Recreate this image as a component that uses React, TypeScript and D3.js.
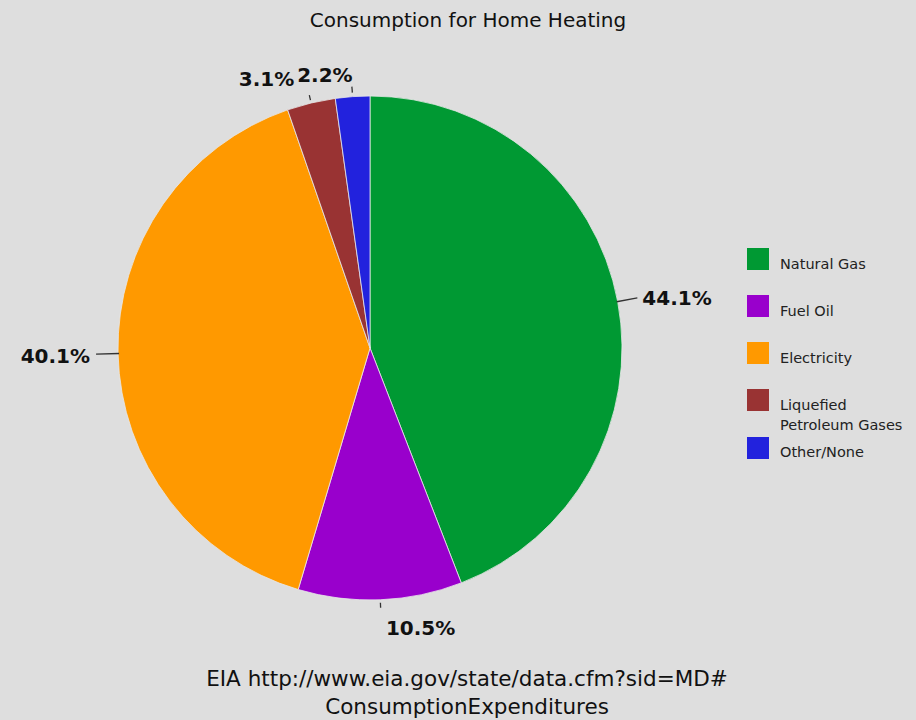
import React from "react";
import * as d3 from "d3";

const categories = ["Natural Gas", "Fuel Oil", "Electricity", "Liquefied Petroleum Gases", "Other/None"];
const legendLines = [["Natural Gas"], ["Fuel Oil"], ["Electricity"], ["Liquefied", "Petroleum Gases"], ["Other/None"]];
const values = [44.1, 10.5, 40.1, 3.1, 2.2];
const colors = ["#009933", "#9900cc", "#ff9900", "#993333", "#2222dd"];
const title = "Consumption for Home Heating";
const footer = ["EIA http://www.eia.gov/state/data.cfm?sid=MD#", "ConsumptionExpenditures"];

// label layout: leader radii (offset beyond pie radius) and text offsets from leader end
const labelLayout = [
  { r1: -1, r2: 20, dx: 5, dy: 7, anchor: "start" },
  { r1: 3, r2: 8, dx: 40, dy: 27, anchor: "middle" },
  { r1: -1, r2: 22, dx: -6, dy: 9, anchor: "end" },
  { r1: 3, r2: 8, dx: -15, dy: -9, anchor: "end" },
  { r1: 4, r2: 10, dx: -27, dy: -5, anchor: "middle" },
];

const W = 916, H = 720;
const cx = 370, cy = 348, R = 252;
const font = "'Comic Sans MS', 'DejaVu Sans', sans-serif";

export default function App() {
  const pie = d3.pie<number>().sort(null).value((d) => d);
  const arcs = pie(values);
  const arc = d3.arc<d3.PieArcDatum<number>>().innerRadius(0).outerRadius(R);
  const pt = (a: number, r: number) => [Math.sin(a) * r, -Math.cos(a) * r];
  const legendY = [248, 295, 342, 389, 437];

  return (
    <svg width={W} height={H} style={{ position: "absolute", left: 0, top: 0, background: "#dedede" }}>
      <rect width={W} height={H} fill="#dedede" />
      <text x={468} y={27} textAnchor="middle" fontFamily={font} fontSize={20} fill="#111">{title}</text>
      <g transform={`translate(${cx},${cy})`}>
        {arcs.map((a, i) => (
          <path key={i} d={arc(a) || ""} fill={colors[i]} stroke="#e8e8e8" strokeWidth={0.8} />
        ))}
        {arcs.map((a, i) => {
          const m = (a.startAngle + a.endAngle) / 2;
          const L = labelLayout[i];
          const [x1, y1] = pt(m, R + L.r1);
          const [x2, y2] = pt(m, R + L.r2);
          return (
            <g key={"l" + i}>
              <line x1={x1} y1={y1} x2={x2} y2={y2} stroke="#333" strokeWidth={1.3} />
              <text x={x2 + L.dx} y={y2 + L.dy} textAnchor={L.anchor as any} fontFamily={font}
                fontWeight="bold" fontSize={20} fill="#111">{values[i].toFixed(1)}%</text>
            </g>
          );
        })}
      </g>
      {categories.map((c, i) => (
        <g key={c}>
          <rect x={747} y={legendY[i]} width={22} height={22} fill={colors[i]} />
          {legendLines[i].map((t, j) => (
            <text key={j} x={780} y={legendY[i] + 21 + j * 20 - (i === 4 ? 1 : 0)} fontFamily={font} fontSize={14.5} fill="#222">{t}</text>
          ))}
        </g>
      ))}
      {footer.map((t, i) => (
        <text key={i} x={467} y={686 + i * 28} textAnchor="middle" fontFamily={font} fontSize={21.5} fill="#111">{t}</text>
      ))}
    </svg>
  );
}
